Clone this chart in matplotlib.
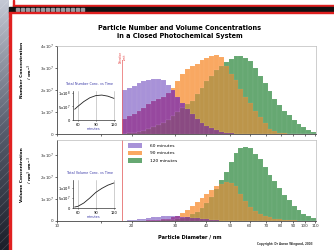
import numpy as np
import matplotlib
matplotlib.use("Agg")
from matplotlib import pyplot as plt
from matplotlib.patches import Rectangle, Patch
from matplotlib.ticker import NullLocator

# particle size channels (nm), log spaced above the detection limit
d_lo, d_hi, n_bins = 18.3, 111, 40
edges = np.geomspace(d_lo, d_hi, n_bins + 1)

# number concentration (x 1e7 cm-3) per channel
n60 = [2.0, 2.1, 2.2, 2.3, 2.4, 2.45, 2.5, 2.5, 2.45, 2.25, 2.0, 1.7, 1.4, 1.15, 0.9, 0.7,
       0.52, 0.38, 0.26, 0.17, 0.1, 0.06, 0.03, 0.01] + [0] * 16
n90 = [0.7, 0.8, 0.9, 1.05, 1.2, 1.35, 1.5, 1.6, 1.7, 1.85, 2.1, 2.4, 2.75, 2.95, 3.1, 3.2,
       3.35, 3.45, 3.55, 3.6, 3.5, 3.1, 2.75, 2.45, 2.05, 1.7, 1.4, 1.05, 0.78, 0.5, 0.25,
       0.12, 0.06, 0.03, 0.01, 0, 0, 0, 0, 0]
n120 = [0.02, 0.04, 0.06, 0.1, 0.15, 0.22, 0.3, 0.4, 0.52, 0.65, 0.8, 1.0, 1.2, 1.35, 1.5,
        1.8, 2.1, 2.4, 2.65, 2.9, 3.1, 3.25, 3.4, 3.55, 3.55, 3.45, 3.3, 3.0, 2.65, 2.3,
        1.95, 1.6, 1.3, 1.05, 0.85, 0.65, 0.45, 0.3, 0.18, 0.1]

# volume concentration per channel
v60 = [0.02, 0.04, 0.06, 0.08, 0.11, 0.14, 0.17, 0.19, 0.21, 0.22, 0.22, 0.21, 0.19, 0.17,
       0.14, 0.12, 0.1, 0.07, 0.05, 0.03, 0.02, 0.01] + [0] * 18
v90 = [0, 0, 0.01, 0.01, 0.02, 0.03, 0.04, 0.06, 0.08, 0.11, 0.16, 0.24, 0.36, 0.5, 0.68,
       0.86, 1.05, 1.25, 1.42, 1.58, 1.7, 1.77, 1.75, 1.6, 1.25, 0.9, 0.62, 0.45, 0.32,
       0.23, 0.16, 0.11, 0.08, 0.06, 0.04, 0.03, 0.02, 0.01, 0.01, 0]
v120 = [0, 0, 0, 0, 0, 0.01, 0.01, 0.02, 0.03, 0.04, 0.06, 0.09, 0.13, 0.2, 0.3, 0.42,
        0.58, 0.82, 1.1, 1.45, 1.85, 2.25, 2.7, 3.1, 3.3, 3.38, 3.3, 3.05, 2.8, 2.45, 2.1,
        1.8, 1.5, 1.2, 0.95, 0.7, 0.48, 0.32, 0.22, 0.14]

# totals vs time (insets)
times = [55, 60, 70, 80, 90, 100, 110, 120]
n_total = [0.40e8, 0.50e8, 0.68e8, 0.82e8, 0.90e8, 0.92e8, 0.88e8, 0.80e8]
v_total = [0.05e8, 0.08e8, 0.25e8, 0.50e8, 0.78e8, 0.98e8, 1.14e8, 1.25e8]

labels = ["60 minutes", "90 minutes", "120 minutes"]
x_ticks = [10, 15, 20, 30, 40, 50, 60, 70, 80, 90, 100, 110]
x_ticklabels = ["10", "", "20", "30", "40", "50", "60", "70", "80", "90", "100", "110"]
det_limit = 18.3

C_P, C_O, C_G = "#a892d8", "#f9a862", "#66a872"
C_PO, C_OG, C_PG, C_POG = "#97489f", "#bc954a", "#6c5a8c", "#8a4a82"
BLUE = "#3a3aa8"

W, H = 334, 250
fig = plt.figure(figsize=(W / 100, H / 100), dpi=100)


def box(x0, y0, x1, y1):
    return [x0 / W, 1 - y1 / H, (x1 - x0) / W, (y1 - y0) / H]


# slide background / decorations, in pixel coordinates
bg = fig.add_axes([0, 0, 1, 1], zorder=-10)
bg.set_xlim(0, W)
bg.set_ylim(H, 0)
bg.axis("off")
grad = np.linspace(0, 1, 100)[:, None]
bg.imshow(grad, cmap=matplotlib.colors.LinearSegmentedColormap.from_list("s", ["#c4c8d4", "#5a6070", "#1c1f2a"]),
          extent=[0, 9, H, 0], aspect="auto")
for k in range(-10, 30):
    bg.plot([0, 9], [k * 9 + 9, k * 9], color="white", alpha=0.18, lw=0.5)
bg.add_patch(Rectangle((9, 12), 1.5, H, color="#e02020"))
bg.add_patch(Rectangle((13, 5), W, 1.5, color="#e02020"))
bg.add_patch(Rectangle((13, 0), 1.2, 6, color="#e02020"))
bg.add_patch(Rectangle((9, 6.5), W, 5.5, color="#111111"))
for k in range(14):
    bg.add_patch(Rectangle((16 + k * 5, 8), 2.5, 2.5, color="#9a9aa0"))
bg.add_patch(Rectangle((9, 12), W, 1.2, color="#e02020"))

fig.text(180 / W, 1 - 32 / H, "Particle Number and Volume Concentrations\nin a Closed Photochemical System",
         ha="center", va="center", fontsize=4.7, fontweight="bold", linespacing=1.3)


def layered(ax, a, b, c):
    a, b, c = np.array(a), np.array(b), np.array(c)
    w = np.diff(edges)
    layers = [(a, C_P), (b, C_O), (c, C_G),
              (np.minimum(a, b), C_PO), (np.minimum(b, c), C_OG), (np.minimum(a, c), C_PG),
              (np.minimum(np.minimum(a, b), c), C_POG)]
    for h, col in layers:
        ax.bar(edges[:-1], h, width=w, align="edge", color=col,
               edgecolor=(1, 1, 1, 0.12), linewidth=0.3)


def style_main(ax, top, show_labels):
    ax.set_xscale("log")
    ax.set_xlim(10, 111)
    ax.set_ylim(0, top)
    ax.set_xticks(x_ticks)
    ax.set_xticklabels(x_ticklabels if show_labels else [""] * len(x_ticks))
    ax.xaxis.set_minor_locator(NullLocator())
    for s in ["left", "bottom"]:
        ax.spines[s].set_color("#444444")
        ax.spines[s].set_linewidth(0.6)
    for s in ["top", "right"]:
        ax.spines[s].set_color("#bbbbbb")
        ax.spines[s].set_linewidth(0.5)
    ax.tick_params(length=1.5, width=0.5, labelsize=3, pad=1, colors="#333333")


ax1 = fig.add_axes(box(57, 46, 316, 134))
layered(ax1, n60, n90, n120)
style_main(ax1, 4, False)
ax1.set_yticks([0, 1, 2, 3, 4])
ax1.set_yticklabels(["0", "1x10$^7$", "2x10$^7$", "3x10$^7$", "4x10$^7$"])
ax1.plot([det_limit, det_limit], [0, 3.35], color="#e86060", lw=0.5)
ax1.text(det_limit * 1.01, 3.5, "Detection\nLimit", rotation=90, color="#e02020",
         fontsize=1.8, ha="center", va="center", linespacing=1.1)

ax2 = fig.add_axes(box(57, 140, 316, 221))
layered(ax2, v60, v90, v120)
style_main(ax2, 81 / 22, True)
ax2.set_yticks([0, 1, 2, 3])
ax2.set_yticklabels(["0", "1x10$^7$", "2x10$^7$", "3x10$^7$"])
ax2.axvline(det_limit, color="#e05050", lw=0.5)

handles = [Patch(facecolor=c, edgecolor="none") for c in (C_P, C_O, C_G)]
fig.legend(handles, labels, loc="upper left", bbox_to_anchor=(126 / W, 1 - 141 / H),
           frameon=False, fontsize=3.2, handlelength=3.2, handleheight=1.3,
           labelspacing=0.55, handletextpad=1.6, borderpad=0)

fig.text(22 / W, 1 - 70 / H, "Number Concentration", rotation=90, fontsize=3.2,
         fontweight="bold", ha="center", va="center")
fig.text(30 / W, 1 - 72 / H, "/ cm$^{-3}$", rotation=90, fontsize=3.2,
         fontweight="bold", ha="center", va="center")
fig.text(22 / W, 1 - 175 / H, "Volume Concentration", rotation=90, fontsize=3.2,
         fontweight="bold", ha="center", va="center")
fig.text(30 / W, 1 - 170 / H, "/ nm$^3$ cm$^{-3}$", rotation=90, fontsize=3.2,
         fontweight="bold", ha="center", va="center")
fig.text(190 / W, 1 - 237 / H, "Particle Diameter / nm", fontsize=3.6,
         fontweight="bold", ha="center", va="center")
fig.text(285 / W, 1 - 244 / H, "Copyright: Dr Aaron Wiegand, 2003", fontsize=2.0,
         fontweight="bold", ha="center", va="center", color="#333333")


def style_inset(ax, ymax, yticks, ylabels, title, title_y):
    ax.set_xlim(52, 122)
    ax.set_ylim(0, ymax)
    ax.set_xticks([60, 90, 120])
    ax.set_yticks(yticks)
    ax.set_yticklabels(ylabels)
    ax.grid(axis="x", color="#aaaaaa", lw=0.4)
    ax.patch.set_alpha(0)
    for s in ["top", "right"]:
        ax.spines[s].set_visible(False)
    for s in ["left", "bottom"]:
        ax.spines[s].set_linewidth(0.5)
        ax.spines[s].set_color("#333333")
    ax.tick_params(length=1, width=0.4, labelsize=2.6, pad=0.8)
    ax.set_xlabel("minutes", fontsize=2.4, color=BLUE, labelpad=0.6)
    fig.text(90 / W, 1 - title_y / H, title, fontsize=2.4, color=BLUE,
             ha="center", va="center")


in1 = fig.add_axes(box(73, 91, 115, 120))
in1.plot(times, n_total, color="#222222", lw=0.6)
style_inset(in1, 1.07e8, [0, 5e7, 1e8], ["0", "5x10$^7$", "1x10$^8$"],
            "Total Number Conc. vs Time", 84)

in2 = fig.add_axes(box(73, 180, 115, 208))
in2.plot(times, v_total, color="#222222", lw=0.6)
style_inset(in2, 1.4e8, [0, 5e7, 1e8], ["0", "5x10$^7$", "1x10$^8$"],
            "Total Volume Conc. vs Time", 173)

fig.savefig("out.png", dpi=100)
